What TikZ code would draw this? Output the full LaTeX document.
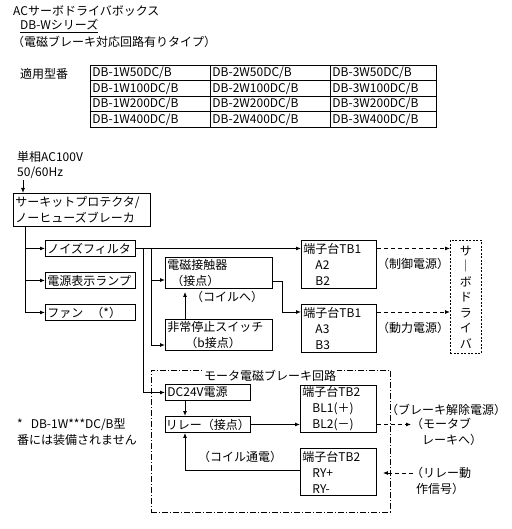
\documentclass[tikz,border=0pt]{standalone}
\usepackage{fontspec}
\newfontfamily\jp{Noto Sans CJK JP}
\usetikzlibrary{arrows.meta}
\begin{document}
\begin{tikzpicture}[x=1pt,y=-1pt,
  every node/.style={font=\jp\fontsize{12pt}{16pt}\selectfont},
  bx/.style={draw, line width=0.9pt, anchor=north west, inner xsep=2pt, inner ysep=0pt, align=left},
  cell/.style={draw, line width=0.9pt, anchor=north west, inner xsep=2pt, inner ysep=0pt, align=left, minimum height=15.5pt},
  lbl/.style={anchor=west, inner sep=0pt},
  ln/.style={line width=0.9pt},
  arr/.style={line width=0.9pt, -{Latex[length=5pt,width=4pt]}},
  darr/.style={arr, dash pattern=on 4pt off 3pt},
]
\fill[white] (0,0) rectangle (511,529);
\useasboundingbox (0,0) rectangle (511,529);

% heading
\node[lbl] (title) at (13,11) {ACサーボドライバボックス};
\node[lbl] (ser) at (20,26) {\underline{DB-Wシリーズ}};
\node[lbl] (type) at (12,42) {（電磁ブレーキ対応回路有りタイプ）};
\node[lbl] (tekiyo) at (20,74) {適用型番};

% table
\foreach \m [count=\i from 0] in {50,100,200,400} {
  \node[cell, text width=116pt] (ca\m) at (90,65+15.5*\i) {DB-1W\m DC/B};
  \node[cell, text width=116pt] (cb\m) at (210,65+15.5*\i) {DB-2W\m DC/B};
  \node[cell, text width=102pt] (cc\m) at (330,65+15.5*\i) {DB-3W\m DC/B};
}

% power input
\node[lbl] (ac) at (17,157) {単相AC100V};
\node[lbl] (hz) at (17,173) {50/60Hz};
\coordinate (acs) at (23,180);

\node[bx, text width=133pt, minimum height=33pt] (brk) at (13,193) {サーキットプロテクタ/\\ノーヒューズブレーカ};

\node[bx, text width=86pt, minimum height=16pt] (nf) at (45,240) {ノイズフィルタ};
\node[bx, text width=86pt, minimum height=16pt] (lamp) at (45,272) {電源表示ランプ};
\node[bx, text width=86pt, minimum height=16pt] (fan) at (45,304) {ファン\hspace{8pt}（*）};

\node[bx, text width=103pt, minimum height=31pt] (mc) at (165,257) {電磁接触器\\\hspace*{4pt}（接点）};
\node[bx, text width=103pt, minimum height=31pt] (es) at (165,319) {非常停止スイッチ\\\hspace*{18pt}（b接点）};
\node[lbl] (coil1) at (191,297) {（コイルへ）};

\node[bx, text width=71pt, minimum height=48pt] (tba) at (301,240) {端子台TB1\\\hspace*{12pt}A2\\\hspace*{12pt}B2};
\node[bx, text width=71pt, minimum height=48pt] (tbb) at (301,304) {端子台TB1\\\hspace*{12pt}A3\\\hspace*{12pt}B3};
\node[inner sep=0pt] (ctl) at (413,264) {（制御電源）};
\node[inner sep=0pt] (pwr) at (413,328) {（動力電源）};

\node[draw, line width=0.9pt, dash pattern=on 2pt off 1.5pt, anchor=north west,
      minimum width=31pt, minimum height=113pt, inner sep=0pt, align=center,
      font=\jp\fontsize{12pt}{15.5pt}\selectfont] (sv) at (450,240)
      {サ\\｜\\ボ\\ド\\ラ\\イ\\バ};

% brake circuit
\node[draw, line width=0.9pt, dash pattern=on 6pt off 2pt on 1pt off 2pt, anchor=north west,
      minimum width=239pt, minimum height=142pt, inner sep=0pt] (brake) at (151,370) {};
\node[fill=white, inner xsep=1pt, inner ysep=0pt] (bt) at (270,376) {モータ電磁ブレーキ回路};

\node[bx, text width=81pt, minimum height=16pt] (dc) at (165,384) {DC24V電源};
\node[bx, inner xsep=0.5pt, text width=84pt, minimum height=16pt] (rl) at (165,416) {リレー（接点）};

\node[bx, text width=72pt, minimum height=47pt] (tbc) at (300,385) {端子台TB2\\\hspace*{10pt}BL1(＋)\\\hspace*{10pt}BL2(－)};
\node[bx, text width=72pt, minimum height=47pt] (tbd) at (300,448) {端子台TB2\\\hspace*{10pt}RY+\\\hspace*{10pt}RY-};

\node[lbl] (rel) at (386,410) {（ブレーキ解除電源）};
\node[lbl, align=left] (mb) at (411,432) {（モータブ\\\hspace*{11pt}レーキへ）};
\node[inner sep=0pt] (coil2) at (240,457) {（コイル通電）};
\node[lbl, align=left] (sig) at (411,481) {（リレー動\\\hspace*{5pt}作信号）};

\node[lbl, align=left] (note) at (17,432) {*\hspace{8pt}DB-1W***DC/B型\\番には装備されません};

% connectors
\draw[arr] (acs) -- (acs |- brk.north);
\draw[ln] (25,0 |- brk.south) -- (25,0 |- fan.west);
\foreach \n in {nf,lamp,fan} \draw[arr] (25,0 |- \n.west) -- (\n.west);

\draw[arr] (nf.east) -- (nf.east -| tba.west);
\draw[arr] (143,0 |- nf.east) |- (dc.west);
\coordinate (j1) at (151,280);
\coordinate (j2) at (151,345);
\draw[ln] (151,0 |- nf.east) -- (j2);
\draw[arr] (j1) -- (j1 -| mc.west);
\draw[arr] (j2) -- (j2 -| es.west);
\draw[arr, shorten >=3pt] (es.north -| 185,0) -- (mc.south -| 185,0);

\coordinate (k) at (282,312);
\draw[arr] (mc.south east) ++(0,-7) -| (k) -- (k -| tbb.west);

\draw[darr] (tba.east |- nf.east) -- (sv.west |- nf.east);
\draw[darr] (k -| tbb.east) -- (k -| sv.west);

\draw[arr] (dc.south -| 185,0) -- (rl.north -| 185,0);
\draw[arr] (rl.east) -- (rl.east -| tbc.west);
\draw[darr] (rl.east -| tbc.east) -- (rl.east -| mb.west);
\coordinate (m) at (185,470);
\draw[arr] (m -| tbd.west) -- (m) -- (rl.south -| m);
\coordinate (q) at (413,473);
\draw[darr, shorten >=6pt] (q) -- (q -| tbd.east);
\end{tikzpicture}
\end{document}
